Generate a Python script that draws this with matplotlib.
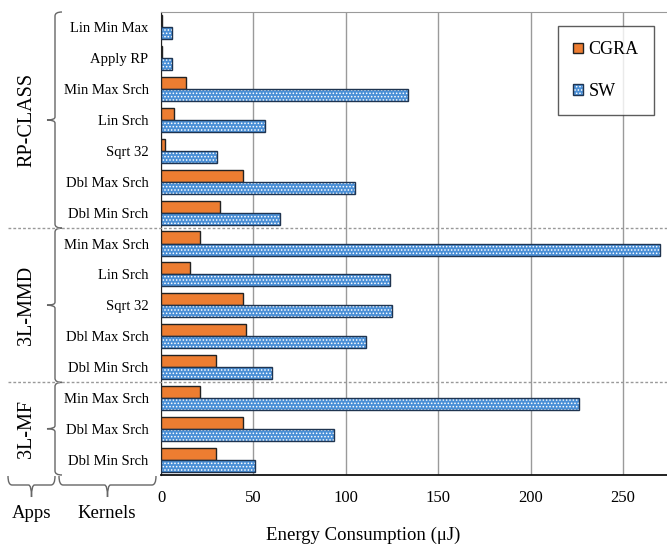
import matplotlib
matplotlib.use('Agg')
import matplotlib.pyplot as plt
from matplotlib.lines import Line2D
from matplotlib.path import Path
from matplotlib.patches import PathPatch
import numpy as np

plt.rcParams['font.family'] = ['Liberation Serif', 'DejaVu Serif']
plt.rcParams['hatch.linewidth'] = 0.7

apps = ['RP-CLASS', '3L-MMD', '3L-MF']
app_sizes = [7, 5, 3]
kernels = ['Lin Min Max', 'Apply RP', 'Min Max Srch', 'Lin Srch', 'Sqrt 32', 'Dbl Max Srch', 'Dbl Min Srch',
           'Min Max Srch', 'Lin Srch', 'Sqrt 32', 'Dbl Max Srch', 'Dbl Min Srch',
           'Min Max Srch', 'Dbl Max Srch', 'Dbl Min Srch']
cgra = [0.7, 0.3, 13.3, 7.2, 2.3, 44.1, 31.7,
        21.1, 15.8, 44.3, 46.1, 30.0,
        21.1, 44.1, 30.0]
sw = [5.9, 5.9, 133.5, 56.5, 30.4, 104.9, 64.3,
      270.0, 123.6, 124.7, 110.8, 60.3,
      226.2, 93.5, 50.7]
xticks = [0, 50, 100, 150, 200, 250]
series_names = ['CGRA', 'SW']

W, H = 667, 544
def fx(x): return x / W
def fy(y): return 1 - y / H

fig = plt.figure(figsize=(W / 100, H / 100), dpi=100)
ax = fig.add_axes([fx(161), fy(475), (W - 161) / W, (475 - 12) / H])

n = len(kernels)
pos = np.arange(n)
bh = 0.39
orange = '#ED7D31'
blue = '#4A8FD6'
edge = '#222222'

b1 = ax.barh(pos - bh / 2, cgra, height=bh, color=orange, edgecolor=edge, linewidth=1.0, zorder=3)
b2 = ax.barh(pos + bh / 2, sw, height=bh, color=blue, edgecolor='white', hatch='.....', linewidth=0, zorder=3)
b3 = ax.barh(pos + bh / 2, sw, height=bh, fill=False, edgecolor='#1F3450', linewidth=1.0, zorder=4)

ax.set_ylim(n - 0.5, -0.5)
ax.set_xlim(0, 273.7)
ax.set_xticks(xticks)
ax.set_xticklabels([str(t) for t in xticks], fontsize=12)
ax.set_yticks(pos)
ax.set_yticklabels(kernels, fontsize=10.5)
ax.tick_params(axis='y', length=0, pad=9)
ax.tick_params(axis='x', length=0, pad=11)
ax.set_axisbelow(True)
ax.xaxis.grid(True, color='#9a9a9a', linewidth=1)
ax.spines['right'].set_visible(False)
ax.spines['top'].set_color('#9a9a9a')
ax.spines['left'].set_color('#222222')
ax.spines['bottom'].set_color('#111111')
ax.spines['bottom'].set_linewidth(1.3)

leg = ax.legend([b1, (b2, b3)], series_names, loc='upper left',
                bbox_to_anchor=(fx(558), fy(26)), bbox_transform=fig.transFigure,
                fontsize=13, frameon=True, fancybox=False, edgecolor='#333333',
                handlelength=0.55, handleheight=0.55, labelspacing=1.35,
                borderpad=0.85, borderaxespad=0, handletextpad=0.3)
leg.get_frame().set_linewidth(1.0)

# group separators
bounds = np.cumsum(app_sizes)[:-1]
for b in bounds:
    ypx = 12 + b * (475 - 12) / n
    fig.add_artist(Line2D([fx(8), fx(W)], [fy(ypx), fy(ypx)], color='#999999',
                          linestyle=(0, (2, 1.5)), linewidth=1.0, transform=fig.transFigure))

def add_path(verts, codes):
    v = [(fx(a), fy(b)) for a, b in verts]
    fig.add_artist(PathPatch(Path(v, codes), fill=False, edgecolor='#666666', linewidth=1.0,
                             transform=fig.transFigure))

def brace_v(x, y0, y1, hook=7, nub=8):
    ym = (y0 + y1) / 2
    verts = [(x + hook, y0), (x, y0), (x, y0 + 4), (x, ym - 3), (x, ym), (x - nub, ym),
             (x, ym), (x, ym + 3), (x, y1 - 4), (x, y1), (x + hook, y1)]
    codes = [Path.MOVETO, Path.CURVE3, Path.CURVE3, Path.LINETO, Path.CURVE3, Path.CURVE3,
             Path.CURVE3, Path.CURVE3, Path.LINETO, Path.CURVE3, Path.CURVE3]
    add_path(verts, codes)
    return ym

def brace_h(y, x0, x1, hook=9, nub=12):
    xm = (x0 + x1) / 2
    verts = [(x0, y - hook), (x0, y), (x0 + 4, y), (xm - 3, y), (xm, y), (xm, y + nub),
             (xm, y), (xm + 3, y), (x1 - 4, y), (x1, y), (x1, y - hook)]
    codes = [Path.MOVETO, Path.CURVE3, Path.CURVE3, Path.LINETO, Path.CURVE3, Path.CURVE3,
             Path.CURVE3, Path.CURVE3, Path.LINETO, Path.CURVE3, Path.CURVE3]
    add_path(verts, codes)
    return xm

start = 0
for app, size in zip(apps, app_sizes):
    y0 = 12 + start * (475 - 12) / n
    y1 = 12 + (start + size) * (475 - 12) / n
    ym = brace_v(55, y0, y1)
    fig.text(fx(27), fy(ym), app, rotation=90, ha='center', va='center', fontsize=14.5)
    start += size

brace_h(485, 8, 55)
brace_h(485, 59, 156)
fig.text(fx(32), fy(513), 'Apps', ha='center', va='center', fontsize=13.5)
fig.text(fx(107), fy(513), 'Kernels', ha='center', va='center', fontsize=13.5)
fig.text(fx(363), fy(535), 'Energy Consumption (\u03bcJ)', ha='center', va='center', fontsize=13.5)

fig.savefig('out.png', dpi=100)
